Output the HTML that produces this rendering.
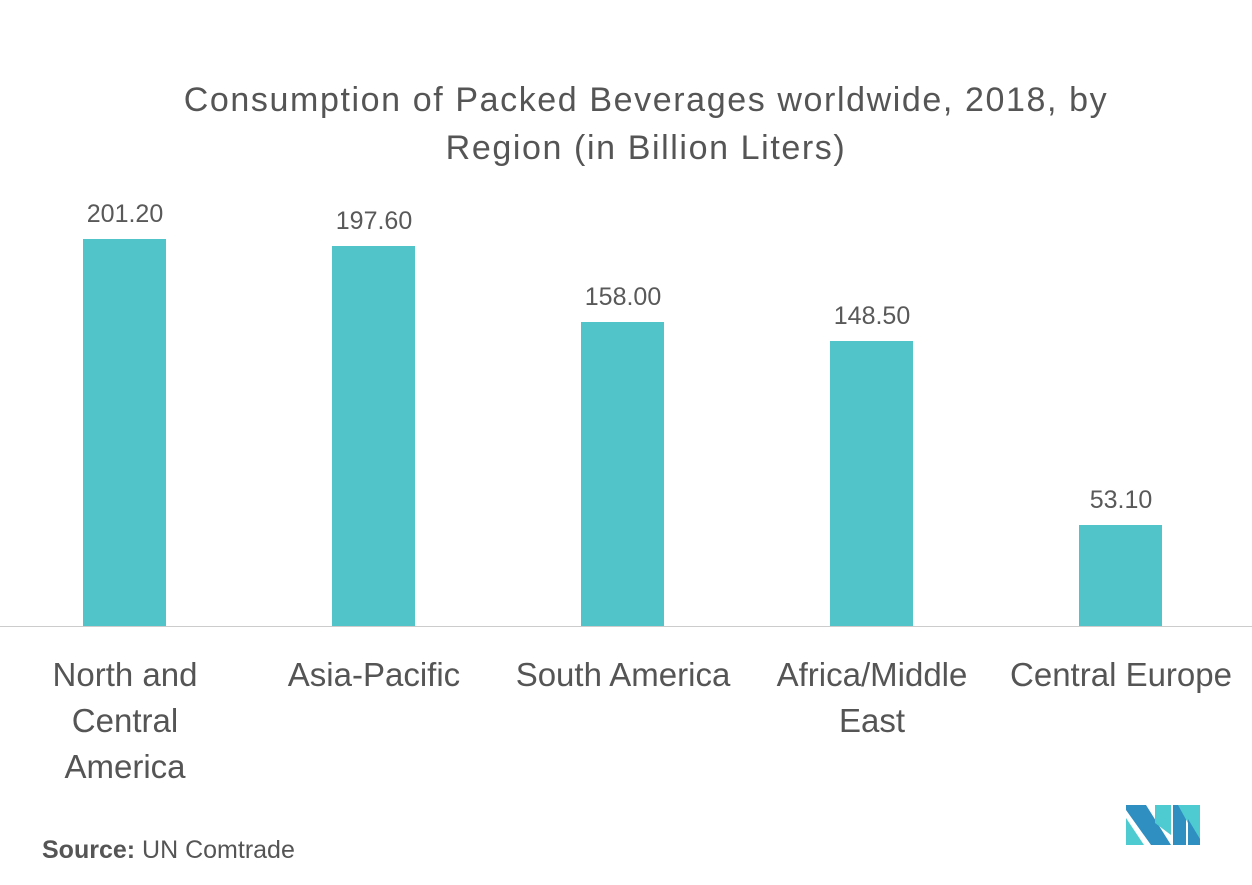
<!DOCTYPE html>
<html><head><style>
body{margin:0;width:1252px;height:885px;background:#fff;font-family:"Liberation Sans",sans-serif;position:relative;overflow:hidden}
.t{position:absolute;left:0;width:1292px;text-align:center;color:#555;font-size:34px;letter-spacing:1.6px;top:76px;line-height:48px}
.bar{position:absolute;background:#50c4c9;width:83px}
.v{position:absolute;width:160px;text-align:center;font-size:25px;color:#595959}
.l{position:absolute;width:250px;text-align:center;font-size:33px;color:#555;line-height:46px;top:652px}
</style></head><body>
<div class="t">Consumption of Packed Beverages worldwide, 2018, by<br>Region (in Billion Liters)</div>
<div class="bar" style="left:83px;top:239px;height:387px"></div>
<div class="bar" style="left:332px;top:246px;height:380px"></div>
<div class="bar" style="left:581px;top:322px;height:304px"></div>
<div class="bar" style="left:830px;top:341px;height:285px"></div>
<div class="bar" style="left:1079px;top:525px;height:101px"></div>
<div class="v" style="left:45px;top:200px">201.20</div>
<div class="v" style="left:294px;top:207px">197.60</div>
<div class="v" style="left:543px;top:283px">158.00</div>
<div class="v" style="left:792px;top:302px">148.50</div>
<div class="v" style="left:1041px;top:486px">53.10</div>
<div style="position:absolute;left:0;top:626px;width:1252px;height:1px;background:#ccc"></div>
<div class="l" style="left:0px">North and<br>Central<br>America</div>
<div class="l" style="left:249px">Asia-Pacific</div>
<div class="l" style="left:498px">South America</div>
<div class="l" style="left:747px">Africa/Middle<br>East</div>
<div class="l" style="left:996px">Central Europe</div>
<div style="position:absolute;left:42px;top:836px;font-size:25px;color:#555"><b>Source:</b> UN Comtrade</div>
<svg style="position:absolute;left:1126px;top:805px" width="74" height="40">
<polygon points="0,0 20,0 45,40 25,40 0,5" fill="#2e8fc0"/>
<polygon points="0,13 0,40 18,40" fill="#4ecbd0"/>
<polygon points="29,18 29,0 45,0 45,30" fill="#4ecbd0"/>
<polygon points="47,0 60,0 60,40 47,40" fill="#2e8fc0"/>
<polygon points="52,0 74,0 74,40" fill="#4ecbd0"/>
<polygon points="62,14 74,34 74,40 62,40" fill="#2e8fc0"/>
</svg>
</body></html>
